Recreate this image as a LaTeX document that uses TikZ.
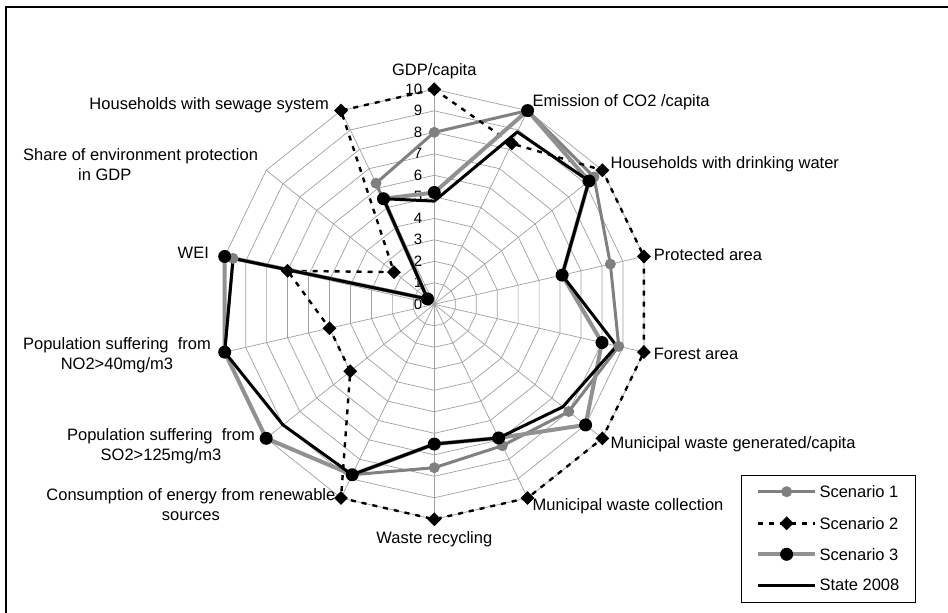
\documentclass[tikz,border=0pt]{standalone}
\usepackage{fontspec}
\setmainfont{Liberation Sans}
\usetikzlibrary{positioning,shapes.geometric,calc}
\definecolor{gridgray}{RGB}{160,160,160}
\definecolor{scenone}{RGB}{128,128,128}
\definecolor{scenthree}{RGB}{145,145,145}
\tikzset{
  gridline/.style={draw=gridgray,line width=0.7pt},
  axislbl/.style={font=\fontsize{16.5}{20}\selectfont,inner sep=1pt,align=center},
  ticklbl/.style={font=\fontsize{15}{18}\selectfont,inner sep=1pt,anchor=east},
  lineone/.style={draw=scenone,line width=3pt,line join=round},
  linetwo/.style={draw=black,line width=2.4pt,dash pattern=on 5pt off 6pt},
  linethree/.style={draw=scenthree,line width=4pt,line join=round},
  linestate/.style={draw=black,line width=3pt,line join=round},
  dotone/.style={circle,fill=scenone,inner sep=0pt,minimum size=11pt},
  dotthree/.style={circle,fill=black,inner sep=0pt,minimum size=13pt},
  diamondtwo/.style={diamond,fill=black,inner sep=0pt,minimum size=14pt},
  legbox/.style={draw=black,line width=0.8pt,fill=white,minimum width=174pt,minimum height=127pt,inner sep=0pt},
  legtext/.style={font=\fontsize{16.5}{20}\selectfont,inner sep=1pt,anchor=west}
}
\newcommand{\unitlen}{21.5}

\begin{document}
\begin{tikzpicture}[x=1pt,y=1pt]
\useasboundingbox (-434.3,-308.7) rectangle (513.7,304.3);
\coordinate (fa) at (-428.3,-330);
\coordinate (fb) at (-428.3,297.3);
\coordinate (fc) at (540,297.3);
\draw[line width=1.2pt] (fa) -- (fb) -- (fc);
% grid
\foreach \r in {1,...,10}
  \draw[gridline] (90:\r*\unitlen) \foreach \k in {1,...,13} {-- ({90-\k*360/14}:\r*\unitlen)} -- cycle;
\foreach \k in {0,...,13}
  \draw[gridline] (0,0) -- ({90-\k*360/14}:10*\unitlen);
\foreach \v in {0,...,10}
  \node[ticklbl] (t\v) at (-11,\v*\unitlen) {\v};

% axis labels
\node[axislbl,anchor=south] (lgdp) at (90:224) {GDP/capita};
\node[axislbl,anchor=west] (lco2) at (64.29:224) {Emission of CO2 /capita};
\node[axislbl,anchor=west] (lwater) at (38.57:224) {Households with drinking water};
\node[axislbl,anchor=west] (lprot) at (12.86:224) {Protected area};
\node[axislbl,anchor=west] (lforest) at (-12.86:224) {Forest area};
\node[axislbl,anchor=west] (lmgen) at (-38.57:224) {Municipal waste generated/capita};
\node[axislbl,anchor=west] (lmcol) at (-64.29:224) {Municipal waste collection};
\node[axislbl,anchor=north] (lrec) at (-90:226) {Waste recycling};
\node[axislbl,anchor=east] (lren) at (-116:223) {Consumption of energy from renewable\\sources};
\node[axislbl,anchor=east] (lso2) at (-141.43:228) {Population suffering\ \ from\\SO2>125mg/m3};
\node[axislbl,anchor=east] (lno2) at (-167.14:228) {Population suffering\ \ from\\NO2>40mg/m3};
\node[axislbl,anchor=east] (lwei) at (167.14:230) {WEI};
\node[axislbl,anchor=east,align=left] (lshare) at (141.43:224) {Share of environment protection\\\hspace*{55pt}in GDP};
\node[axislbl,anchor=east] (lsew) at (117.6:225) {Households with sewage system};

% data points
\foreach \v [count=\i from 0] in {8,10,9.5,8.4,8.8,8,7.3,7.6,8.8,10,10,9.6,0.4,6.25}
  \coordinate (a\i) at ({90-\i*360/14}:\v*\unitlen);
\foreach \v [count=\i from 0] in {10,8.3,10,10,10,10,10,10,10,5,5,7,2.4,10}
  \coordinate (b\i) at ({90-\i*360/14}:\v*\unitlen);
\foreach \v [count=\i from 0] in {5.2,10,9.2,6.1,8,9,6.9,6.5,8.8,10,10,10,0.4,5.45}
  \coordinate (c\i) at ({90-\i*360/14}:\v*\unitlen);
\foreach \v [count=\i from 0] in {4.8,8.9,9.2,6.1,8.7,7.65,6.9,6.5,8.8,9,10,9.6,0.4,5.45}
  \coordinate (d\i) at ({90-\i*360/14}:\v*\unitlen);

% series
\draw[lineone] (a0) \foreach \i in {1,...,13} {-- (a\i)} -- cycle;
\draw[linetwo] (b0) \foreach \i in {1,...,13} {-- (b\i)} -- cycle;
\draw[linethree] (c0) \foreach \i in {1,...,13} {-- (c\i)} -- cycle;
\draw[linestate] (d0) \foreach \i in {1,...,13} {-- (d\i)} -- cycle;
\foreach \i in {0,...,13} \node[dotone] (ma\i) at (a\i) {};
\foreach \i in {0,...,13} \node[diamondtwo] (mb\i) at (b\i) {};
\foreach \i in {0,...,13} \node[dotthree] (mc\i) at (c\i) {};

% legend
\node[legbox] (legend) at (394.4,-235) {};
\coordinate (k1a) at (324,-187.4);  \coordinate (k1b) at (380.7,-187.4);
\coordinate (k2a) at (324,-219);    \coordinate (k2b) at (380.7,-219);
\coordinate (k3a) at (324,-250);    \coordinate (k3b) at (380.7,-250);
\coordinate (k4a) at (324,-280.7);  \coordinate (k4b) at (380.7,-280.7);
\draw[lineone] (k1a) -- (k1b);
\draw[linetwo] (k2a) -- (k2b);
\draw[linethree] (k3a) -- (k3b);
\draw[linestate] (k4a) -- (k4b);
\node[dotone] (km1) at ($(k1a)!0.5!(k1b)$) {};
\node[diamondtwo] (km2) at ($(k2a)!0.5!(k2b)$) {};
\node[dotthree] (km3) at ($(k3a)!0.5!(k3b)$) {};
\node[legtext] (kt1) at (384,-187.4) {Scenario 1};
\node[legtext] (kt2) at (384,-219) {Scenario 2};
\node[legtext] (kt3) at (384,-250) {Scenario 3};
\node[legtext] (kt4) at (384,-280.7) {State 2008};
\end{tikzpicture}
\end{document}
